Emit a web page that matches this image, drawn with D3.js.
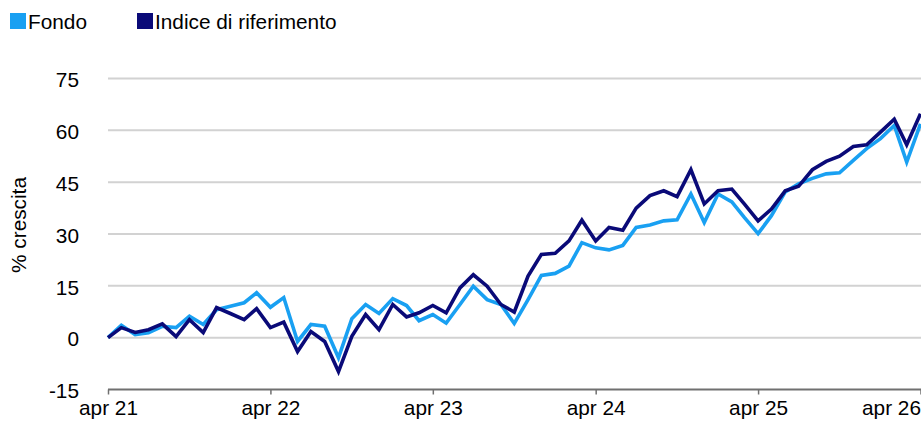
<!DOCTYPE html>
<html><head><meta charset="utf-8">
<script src="https://cdn.jsdelivr.net/npm/d3@7"></script>
<style>
html,body{margin:0;padding:0;background:#fff;}
svg{display:block;font-family:Arial,"Liberation Sans",sans-serif;}
</style></head>
<body><svg id="c" width="921" height="428"></svg>
<script>
const startYear = 2021, startMonth = 3; // April 2021
const fondo = [0, 3.6, 0.9, 1.4, 3.3, 2.9, 6.2, 3.8, 8.1, 9.1, 10.1, 13, 8.8, 11.6, -1.1, 3.8, 3.3, -5.8, 5.5, 9.6, 7, 11.3, 9.3, 4.9, 6.7, 4.2, 9.6, 14.9, 11, 9.6, 4.1, 11, 18, 18.6, 20.7, 27.5, 26, 25.4, 26.7, 31.9, 32.6, 33.8, 34.1, 41.6, 33.3, 41.6, 39.3, 34.8, 30.1, 35.3, 42.2, 44.5, 46.1, 47.4, 47.7, 51.3, 54.7, 57.6, 61.4, 50.8, 61.9];
const indice = [0, 2.9, 1.5, 2.3, 4, 0.3, 5.2, 1.5, 8.7, 7, 5.2, 8.4, 2.9, 4.5, -4, 1.8, -1.1, -9.8, 0.4, 6.7, 2.3, 9.6, 6, 7.2, 9.3, 7.2, 14.4, 18.2, 14.9, 9.6, 7.4, 17.8, 24.1, 24.4, 28, 34, 28, 31.9, 31.1, 37.5, 41.1, 42.5, 40.8, 48.6, 38.7, 42.5, 43, 38.7, 33.8, 37.2, 42.5, 43.8, 48.6, 51, 52.5, 55.3, 55.8, 59.5, 63.2, 55.8, 64.8];
const yTicks = [-15, 0, 15, 30, 45, 60, 75];
const xTickLabels = ["apr 21", "apr 22", "apr 23", "apr 24", "apr 25", "apr 26"];
const seriesNames = ["Fondo", "Indice di riferimento"];
const seriesColors = ["#19a0f2", "#0a0a78"];

const dates = fondo.map((_, i) => new Date(startYear, startMonth + i, 1));
const xTickDates = xTickLabels.map((_, i) => new Date(startYear + i, startMonth, 1));

const FS = 20.8;
const svg = d3.select("#c");
const x = d3.scaleTime().domain([dates[0], dates[dates.length - 1]]).range([108, 920.5]);
const y = d3.scaleLinear().domain([-15, 75]).range([389.5, 78.5]);

// gridlines
svg.append("g").selectAll("line").data(yTicks.filter(d => d !== -15)).join("line")
  .attr("x1", 108).attr("x2", 921)
  .attr("y1", d => y(d)).attr("y2", d => y(d))
  .attr("stroke", "#d2d2d2").attr("stroke-width", 2);

// y labels
svg.append("g").selectAll("text").data(yTicks).join("text")
  .attr("x", 79).attr("y", d => y(d)).attr("dy", "0.42em")
  .attr("text-anchor", "end").attr("font-size", FS).attr("fill", "#000")
  .text(d => d);

// x axis
const xAxis = d3.axisBottom(x).tickValues(xTickDates)
  .tickFormat((d, i) => xTickLabels[i]).tickSize(5).tickSizeOuter(0);
const gx = svg.append("g").attr("transform", `translate(0,${y(-15)})`).call(xAxis);
gx.select(".domain").attr("stroke", "#707070").attr("stroke-width", 2).attr("d", `M108,0H921`);
gx.selectAll(".tick line").attr("stroke", "#707070").attr("stroke-width", 1.5);
gx.selectAll(".tick text").attr("font-size", FS).attr("fill", "#000").attr("dy", "0.85em")
  .attr("font-family", "Arial, 'Liberation Sans', sans-serif");
gx.selectAll(".tick").each(function() {
  const t = d3.select(this).select("text");
  const bb = t.node().getBBox();
  const tr = d3.select(this).attr("transform");
  const tx = +tr.match(/translate\(([-\d.]+)/)[1];
  if (tx + bb.x + bb.width > 921) t.attr("x", 921 - (tx + bb.x + bb.width));
});

// y axis title
svg.append("text").attr("transform", "translate(26,225) rotate(-90)")
  .attr("text-anchor", "middle").attr("font-size", FS).attr("fill", "#000").text("% crescita");

// lines
const line = d3.line().x((d, i) => x(dates[i])).y(d => y(d));
[fondo, indice].forEach((s, k) => {
  svg.append("path").datum(s).attr("d", line).attr("fill", "none")
    .attr("stroke", seriesColors[k]).attr("stroke-width", 3.6)
    .attr("stroke-linejoin", "miter");
});

// legend
const legX = [10, 137];
seriesNames.forEach((n, k) => {
  svg.append("rect").attr("x", legX[k]).attr("y", 13).attr("width", 16).attr("height", 16)
    .attr("fill", seriesColors[k]);
  svg.append("text").attr("x", legX[k] + 18).attr("y", 28.8).attr("font-size", FS)
    .attr("fill", "#000").text(n);
});
</script></body></html>
